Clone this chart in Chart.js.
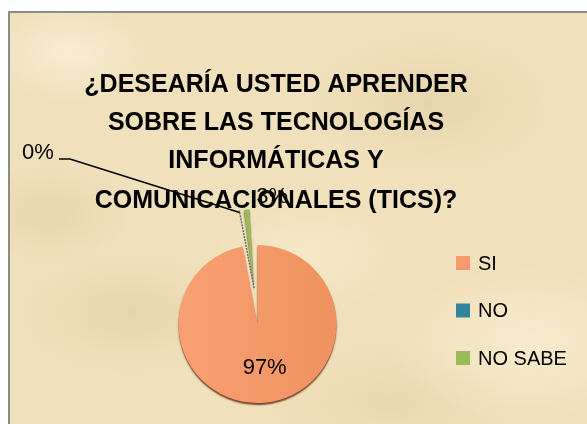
<!DOCTYPE html>
<html>
<head>
<meta charset="utf-8">
<script src="https://cdn.jsdelivr.net/npm/chart.js@4"></script>
<style>
  html, body { margin: 0; padding: 0; background: #ffffff; }
  body { width: 587px; height: 424px; overflow: hidden; position: relative; }
  #frame {
    position: absolute; left: 8px; top: 11px; width: 579px; height: 413px;
    border-left: 2px solid #8b8b8b; border-top: 2px solid #8b8b8b;
    box-sizing: border-box;
    background-color: #f0e0bb;
    background-image:
      radial-gradient(ellipse 90px 50px at 60px 40px, rgba(255,248,225,0.55), transparent),
      radial-gradient(ellipse 120px 70px at 420px 90px, rgba(222,200,156,0.45), transparent),
      radial-gradient(ellipse 110px 60px at 120px 300px, rgba(224,202,160,0.5), transparent),
      radial-gradient(ellipse 140px 80px at 520px 330px, rgba(255,247,222,0.5), transparent),
      radial-gradient(ellipse 100px 60px at 300px 240px, rgba(255,246,220,0.4), transparent),
      radial-gradient(ellipse 80px 50px at 40px 200px, rgba(222,200,158,0.45), transparent),
      radial-gradient(ellipse 120px 60px at 380px 390px, rgba(226,206,165,0.45), transparent);
  }
  #chart { position: absolute; left: 0; top: 0; }
</style>
</head>
<body>
<div id="frame">
  <canvas id="chart" width="577" height="411"></canvas>
</div>
<script>
// Datos del gráfico
const categories = ['SI', 'NO', 'NO SABE'];
const values = [97, 0, 3];
const percentLabels = ['97%', '0%', '3%'];
const titleLines = [
    '¿DESEARÍA USTED APRENDER',
    'SOBRE LAS TECNOLOGÍAS',
    'INFORMÁTICAS Y',
    'COMUNICACIONALES (TICS)?'
];

const sliceColors = ['#f79a6b', '#31849b', '#9bbb59'];
// Chart.js v4 desplaza la porción offset/4 píxeles
const explode = [0, 0, 144];

// Relleno por porción (degradado para la grande)
const sliceFill = (ctx) => {
    if (ctx.dataIndex !== 0) return sliceColors[ctx.dataIndex];
    const g = ctx.chart.ctx.createLinearGradient(168, 0, 328, 0);
    g.addColorStop(0, '#f9a072');
    g.addColorStop(1, '#ef925f');
    return g;
};

// El offset también agranda el radio de la porción: se compensa
const explodeFix = {
    id: 'explodeFix',
    afterDatasetUpdate(chart, args) {
        const arcs = chart.getDatasetMeta(args.index).data;
        arcs.forEach((arc, i) => {
            const shift = explode[i] / 4;
            if (!shift) return;
            const fix = 1 - Math.sin(Math.min(Math.PI, arc.circumference || 0));
            arc.outerRadius = arc.outerRadius - shift * fix;
        });
    }
};

// Título dibujado a mano (centrado sobre el gráfico)
const titlePlugin = {
    id: 'titlePlugin',
    afterDraw(chart) {
        const ctx = chart.ctx;
        ctx.save();
        ctx.fillStyle = '#000';
        ctx.font = 'bold 25px "Liberation Sans", Arial, sans-serif';
        ctx.textAlign = 'center';
        ctx.textBaseline = 'alphabetic';
        const baselines = [79, 117, 155, 195];
        titleLines.forEach((line, i) => ctx.fillText(line, 266, baselines[i]));
        ctx.restore();
    }
};

// Sombra inferior del pastel
const shadowPlugin = {
    id: 'shadowPlugin',
    beforeDatasetsDraw(chart) {
        const ctx = chart.ctx;
        ctx.save();
        ctx.shadowColor = 'rgba(100,45,15,0.85)';
        ctx.shadowOffsetY = 2;
        ctx.shadowBlur = 1.5;
    },
    afterDatasetsDraw(chart) {
        chart.ctx.restore();
    }
};

// Etiquetas de porcentaje, línea guía y leyenda
const labelsPlugin = {
    id: 'labelsPlugin',
    afterDraw(chart) {
        const ctx = chart.ctx;
        const arcs = chart.getDatasetMeta(0).data;
        ctx.save();

        // borde de la porción 0%
        const no = arcs[1];
        const ns = arcs[2];
        const nsMid = (ns.startAngle + ns.endAngle) / 2;
        const shift = explode[2] / 4;
        const ox = ns.x + shift * Math.cos(nsMid);
        const oy = ns.y + shift * Math.sin(nsMid);
        ctx.strokeStyle = '#6b6b6b';
        ctx.lineWidth = 1.5;
        ctx.setLineDash([2, 1]);
        ctx.beginPath();
        ctx.moveTo(ox, oy);
        ctx.lineTo(ox + no.outerRadius * Math.cos(no.startAngle), oy + no.outerRadius * Math.sin(no.startAngle));
        ctx.stroke();
        ctx.setLineDash([]);

        ctx.fillStyle = '#000';
        ctx.font = '22px "Liberation Sans", Arial, sans-serif';
        ctx.textAlign = 'center';
        ctx.textBaseline = 'middle';

        // 97%
        const si = arcs[0];
        const siMid = (si.startAngle + si.endAngle) / 2;
        const d = si.outerRadius * 0.56;
        ctx.fillText(percentLabels[0], si.x + d * Math.cos(siMid) + 3, si.y + d * Math.sin(siMid));

        // 3%
        ctx.fillText(percentLabels[2], ox + 18, oy - 91);

        // 0% con línea guía
        ctx.fillText(percentLabels[1], 28, 140);
        ctx.strokeStyle = '#000';
        ctx.lineWidth = 1.5;
        ctx.beginPath();
        ctx.moveTo(49, 146);
        ctx.lineTo(60, 146);
        ctx.lineTo(ox + (no.outerRadius - 2) * Math.cos(no.startAngle), oy + (no.outerRadius - 2) * Math.sin(no.startAngle));
        ctx.stroke();

        // leyenda
        ctx.font = '20px "Liberation Sans", Arial, sans-serif';
        ctx.textAlign = 'left';
        const rows = [250, 297.5, 345];
        chart.data.labels.forEach((lab, i) => {
            ctx.fillStyle = sliceColors[i];
            ctx.fillRect(446, rows[i] - 7, 14, 14);
            ctx.fillStyle = '#000';
            ctx.fillText(lab, 468, rows[i] + 1);
        });
        ctx.restore();
    }
};

new Chart(document.getElementById('chart'), {
    type: 'pie',
    data: {
        labels: categories,
        datasets: [{
            data: values,
            backgroundColor: sliceFill,
            borderWidth: 0,
            offset: explode,
            clip: false
        }]
    },
    options: {
        responsive: false,
        animation: false,
        radius: 79,
        layout: { padding: { left: 0, right: 82, top: 211, bottom: 0 } },
        plugins: {
            legend: { display: false },
            tooltip: { enabled: false },
            title: { display: false }
        }
    },
    plugins: [explodeFix, shadowPlugin, labelsPlugin, titlePlugin]
});
</script>
</body>
</html>
